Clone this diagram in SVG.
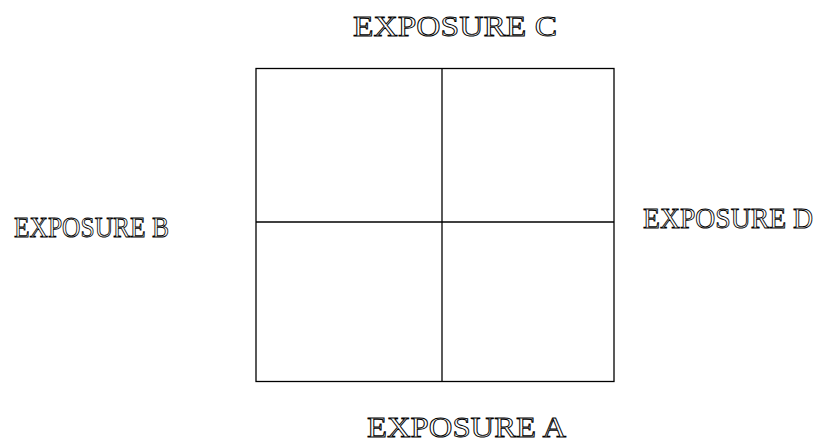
<svg xmlns="http://www.w3.org/2000/svg" width="819" height="440" viewBox="0 0 819 440">
<style>
.lbl{font-family:"Liberation Serif","Times New Roman",serif;font-size:29px;fill:#fff;stroke:#000;stroke-width:0.9px;}
.ln{stroke:#000;stroke-width:1.3;fill:none;}
</style>
<rect width="819" height="440" fill="#fff"/>
<g id="grid">
<rect class="ln" x="256" y="68.5" width="358" height="313"/>
</g>
<g id="connectors">
<line class="ln" x1="442" y1="68.5" x2="442" y2="381.5"/>
<line class="ln" x1="256" y1="222" x2="614" y2="222"/>
</g>
<g id="exposureC"><text class="lbl" x="353" y="36" textLength="204" lengthAdjust="spacingAndGlyphs">EXPOSURE C</text></g>
<g id="exposureB"><text class="lbl" x="14" y="237" textLength="155" lengthAdjust="spacingAndGlyphs">EXPOSURE B</text></g>
<g id="exposureD"><text class="lbl" x="643" y="228" textLength="170" lengthAdjust="spacingAndGlyphs">EXPOSURE D</text></g>
<g id="exposureA"><text class="lbl" x="367" y="437" textLength="199" lengthAdjust="spacingAndGlyphs">EXPOSURE A</text></g>
</svg>
